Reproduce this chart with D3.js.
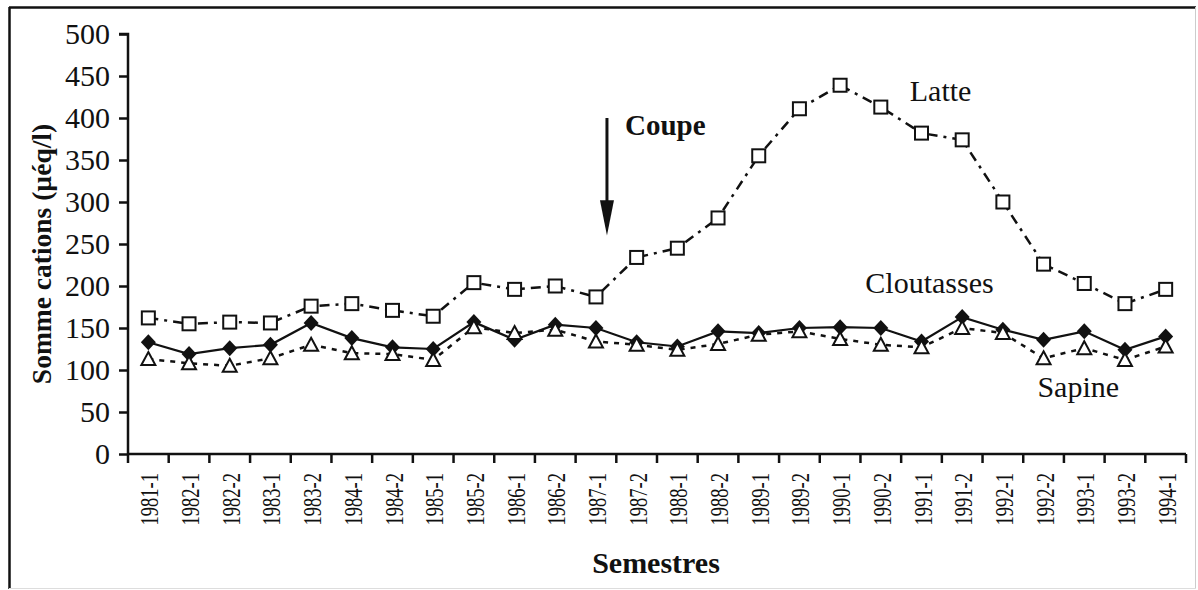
<!DOCTYPE html>
<html>
<head>
<meta charset="utf-8">
<script src="https://cdn.jsdelivr.net/npm/d3@7"></script>
</head>
<body style="margin:0">
<svg id="chart" width="1198" height="590" font-family="Liberation Serif" style="font-family: Liberation Serif"></svg>
<script>
const semestres = ['1981-1', '1982-1', '1982-2', '1983-1', '1983-2', '1984-1', '1984-2', '1985-1', '1985-2',
    '1986-1', '1986-2', '1987-1', '1987-2', '1988-1', '1988-2', '1989-1', '1989-2', '1990-1', '1990-2',
    '1991-1', '1991-2', '1992-1', '1992-2', '1993-1', '1993-2', '1994-1'];

const latte = [162, 155, 157, 156, 176, 179, 171, 164, 204, 196, 200, 187, 234, 245, 281, 355, 411,
    439, 413, 382, 374, 300, 226, 203, 179, 196];
const cloutasses = [133, 119, 126, 130, 156, 138, 127, 125, 157, 136, 154, 150, 133, 128, 146, 144, 150,
    151, 150, 134, 163, 148, 136, 146, 124, 140];
const sapine = [113, 108, 105, 114, 130, 120, 119, 112, 151, 144, 148, 134, 130, 124, 131, 142, 146,
    137, 130, 127, 150, 144, 114, 126, 112, 128];

const yTicks = [0, 50, 100, 150, 200, 250, 300, 350, 400, 450, 500];

const FONT = 'Liberation Serif';
const INK = '#111';

const svg = d3.select('#chart');
const margin = { left: 128, right: 12, top: 34, bottom: 136 };
const width = 1198, height = 590;

const x = d3.scaleBand().domain(semestres).range([margin.left, width - margin.right]).padding(0);
const y = d3.scaleLinear().domain([0, 500]).range([height - margin.bottom, margin.top]);
const xc = d => x(d) + x.bandwidth() / 2;

const setFont = sel => sel.attr('font-family', FONT).style('font-family', FONT);

// frame
svg.append('line').attr('x1', 9).attr('x2', 1196).attr('y1', 7.5).attr('y2', 7.5)
    .attr('stroke', INK).attr('stroke-width', 2.5);
svg.append('line').attr('x1', 9.5).attr('x2', 9.5).attr('y1', 7).attr('y2', 589)
    .attr('stroke', INK).attr('stroke-width', 2.5);
svg.append('line').attr('x1', 1195.5).attr('x2', 1195.5).attr('y1', 7).attr('y2', 589)
    .attr('stroke', '#ccc').attr('stroke-width', 1);
svg.append('line').attr('x1', 9).attr('x2', 1196).attr('y1', 588.5).attr('y2', 588.5)
    .attr('stroke', '#ddd').attr('stroke-width', 1);

// y axis
const yAxis = svg.append('g')
    .attr('transform', `translate(${margin.left},0)`)
    .call(d3.axisLeft(y).tickValues(yTicks).tickSize(9).tickPadding(9).tickFormat(d3.format('d')));
yAxis.call(setFont).attr('font-size', 30);
yAxis.selectAll('text')
    .attr('font-size', 30).attr('fill', INK)
    .call(setFont);
yAxis.select('.domain').attr('stroke', INK).attr('stroke-width', 2.5)
    .attr('d', `M-9,${y(500)}H0V${y(0)}`);
yAxis.selectAll('.tick line').attr('stroke', INK).attr('stroke-width', 2.5);

// x axis: ticks at band boundaries
const xAxis = svg.append('g').attr('transform', `translate(0,${y(0)})`);
xAxis.append('line').attr('x1', margin.left).attr('x2', width - margin.right)
    .attr('stroke', INK).attr('stroke-width', 2.5);
xAxis.selectAll('.tk').data(semestres.concat(['end'])).join('line')
    .attr('class', 'tk')
    .attr('x1', (d, i) => i < semestres.length ? x(d) : x(semestres[i - 1]) + x.bandwidth())
    .attr('x2', (d, i) => i < semestres.length ? x(d) : x(semestres[i - 1]) + x.bandwidth())
    .attr('y1', 0).attr('y2', 9)
    .attr('stroke', INK).attr('stroke-width', 2.5);
xAxis.selectAll('.lbl').data(semestres).join('text')
    .attr('class', 'lbl')
    .attr('transform', d => `translate(${xc(d) + 10},19) scale(1.35,1) rotate(-90)`)
    .attr('text-anchor', 'end')
    .attr('font-size', 18.5)
    .attr('fill', INK)
    .call(setFont)
    .text(d => d);

// axis titles
svg.append('text')
    .attr('transform', `translate(51,${(y(0) + y(500)) / 2 + 10}) rotate(-90)`)
    .attr('text-anchor', 'middle')
    .attr('font-weight', 'bold').attr('font-size', 27.5).attr('fill', INK)
    .call(setFont)
    .text('Somme cations (µéq/l)');

svg.append('text')
    .attr('x', 656).attr('y', 573)
    .attr('text-anchor', 'middle')
    .attr('font-weight', 'bold').attr('font-size', 30).attr('fill', INK)
    .call(setFont)
    .text('Semestres');

// lines
const line = d3.line().x((d, i) => xc(semestres[i])).y(d => y(d));

svg.append('path').datum(latte).attr('d', line)
    .attr('fill', 'none').attr('stroke', INK).attr('stroke-width', 2.5)
    .attr('stroke-dasharray', '10,6,3,6');
svg.append('path').datum(sapine).attr('d', line)
    .attr('fill', 'none').attr('stroke', INK).attr('stroke-width', 2.5)
    .attr('stroke-dasharray', '5,6');
svg.append('path').datum(cloutasses).attr('d', line)
    .attr('fill', 'none').attr('stroke', INK).attr('stroke-width', 2.2);

// markers
svg.append('g').selectAll('rect').data(latte).join('rect')
    .attr('x', (d, i) => xc(semestres[i]) - 6.5)
    .attr('y', d => y(d) - 6.5)
    .attr('width', 13).attr('height', 13)
    .attr('fill', '#fff').attr('stroke', INK).attr('stroke-width', 2);

svg.append('g').selectAll('path').data(cloutasses).join('path')
    .attr('transform', (d, i) => `translate(${xc(semestres[i])},${y(d)})`)
    .attr('d', 'M0,-8L7.5,0L0,8L-7.5,0Z')
    .attr('fill', INK);

svg.append('g').selectAll('path').data(sapine).join('path')
    .attr('transform', (d, i) => `translate(${xc(semestres[i])},${y(d)})`)
    .attr('d', 'M0,-7L7,6L-7,6Z')
    .attr('fill', '#fff').attr('stroke', INK).attr('stroke-width', 2);

// series labels
const label = (txt, cx, val, anchor, bold) => svg.append('text')
    .attr('x', cx).attr('y', y(val))
    .attr('text-anchor', anchor)
    .attr('font-size', bold ? 29 : 30)
    .attr('font-weight', bold ? 'bold' : 'normal')
    .attr('fill', INK)
    .call(setFont)
    .text(txt);

label('Latte', xc('1990-2') + 29, 420, 'start');
label('Cloutasses', xc('1991-1') + 8, 192, 'middle');
label('Sapine', xc('1993-1') - 6, 68, 'middle');
label('Coupe', xc('1987-1') + 29, 380, 'start', true);

// cut arrow
const ax = xc('1987-1') + 11;
svg.append('line').attr('x1', ax).attr('x2', ax).attr('y1', y(400)).attr('y2', y(300))
    .attr('stroke', INK).attr('stroke-width', 3);
svg.append('path')
    .attr('d', `M${ax - 7},${y(302)}L${ax + 7},${y(302)}L${ax},${y(260)}Z`)
    .attr('fill', INK);
</script>
</body>
</html>
